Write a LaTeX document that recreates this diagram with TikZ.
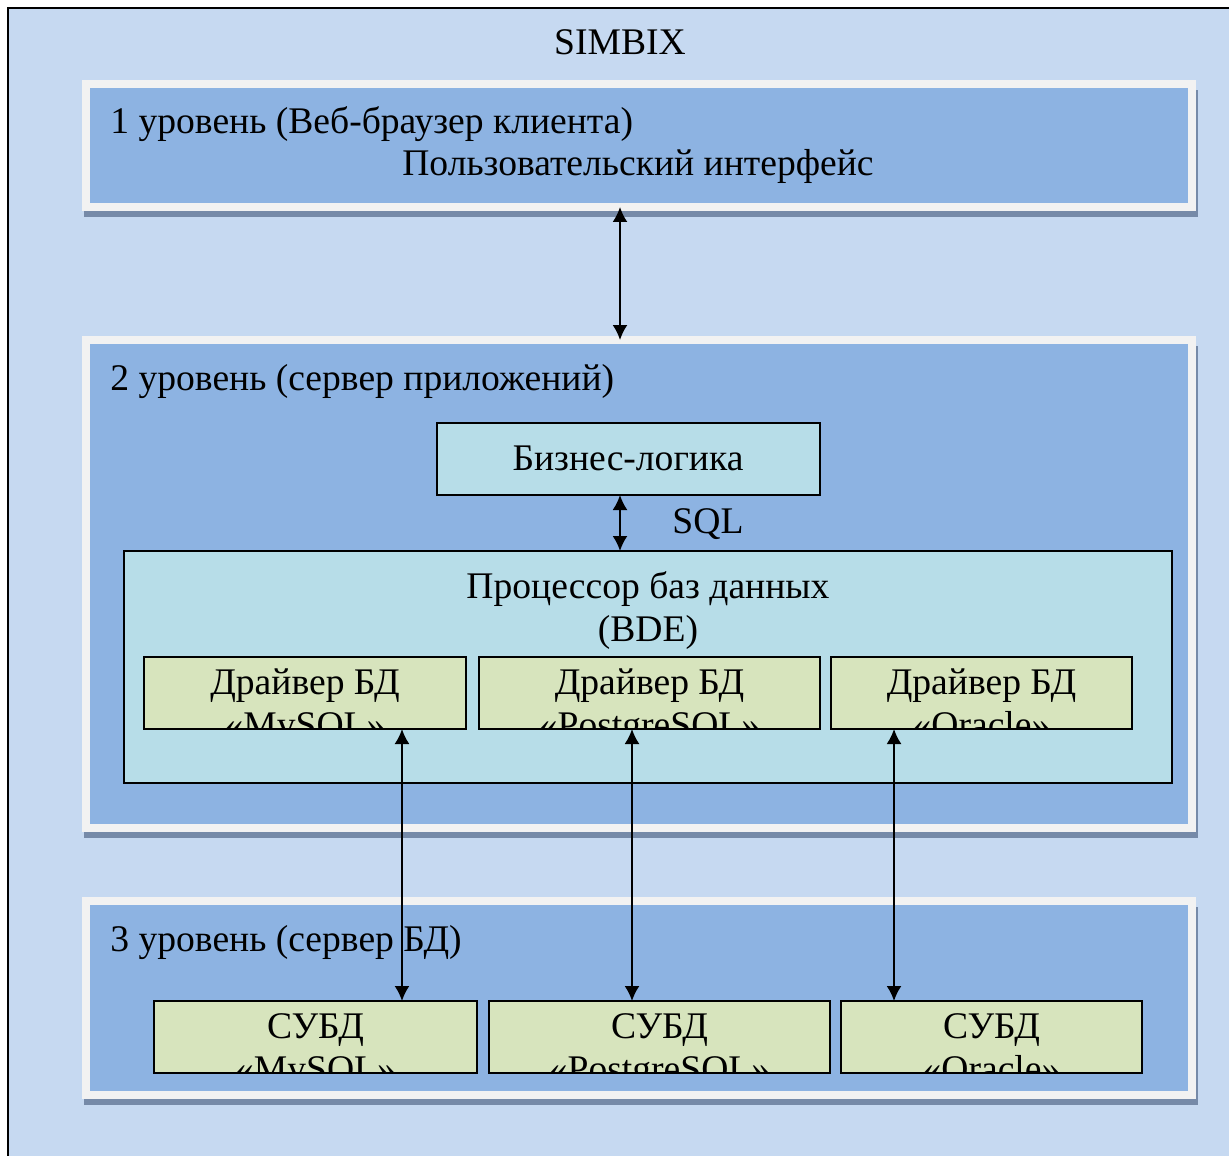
\documentclass[tikz,border=0pt]{standalone}
\usepackage{fontspec}
\setmainfont{Liberation Serif}
\usetikzlibrary{arrows.meta,fit}

\definecolor{outerblue}{HTML}{C6D9F1}
\definecolor{levelblue}{HTML}{8DB3E2}
\definecolor{framegray}{HTML}{F2F2F2}
\definecolor{shadowblue}{HTML}{768AA8}
\definecolor{boxcyan}{HTML}{B7DDE8}
\definecolor{drvgreen}{HTML}{D7E4BD}

\tikzstyle{line} = [draw, line width=0.04cm, {Latex[length=0.3cm,width=0.3cm]}-{Latex[length=0.3cm,width=0.3cm]}]
\tikzstyle{outer} = [rectangle, draw, fill=outerblue, line width=0.04cm, inner sep=0pt]
\tikzstyle{level} = [rectangle, draw=framegray, fill=levelblue, line width=0.16cm, inner sep=0pt, outer sep=0pt]
\tikzstyle{shade} = [fill=shadowblue]
\tikzstyle{box} = [rectangle, draw, fill=boxcyan, line width=0.04cm, inner sep=0pt, outer sep=0pt]
\tikzstyle{drv} = [rectangle, draw, fill=drvgreen, line width=0.04cm, inner sep=0pt, outer sep=0pt]
\tikzstyle{txt} = [inner sep=0pt, font=\fontsize{21.4}{25}\selectfont]

\begin{document}
\begin{tikzpicture}[x=0.02cm, y=-0.02cm]
	\clip (0,0) rectangle (1229,1155);
	\node [outer, fit={(8,8) (1250,1170)}] (simbix) {};
	\node [txt, anchor=base] (title) at (620,55) {SIMBIX};
	
	% 1 level
	\fill [shade] (84,90) rectangle (1198,217);
	\node [level, fit={(86,84) (1192,207)}] (lvl1) {};
	\node [txt, anchor=base west] (lvl1txt) at (110,134) {1 уровень (Веб-браузер клиента)};
	\node [txt, anchor=base] (ui) at (638,176) {Пользовательский интерфейс};
	
	% 2 level
	\fill [shade] (84,346) rectangle (1198,838);
	\node [level, fit={(86,340) (1192,828)}] (lvl2) {};
	\node [txt, anchor=base west] (lvl2txt) at (110,390) {2 уровень (сервер приложений)};
	
	\node [box, fit={(437,423) (820,495)}] (biz) {};
	\node [txt, anchor=base] (biztxt) at (628,470) {Бизнес-логика};
	
	\node [box, fit={(124,551) (1172,783)}] (bde) {};
	\node [txt, anchor=base] (bdetxt1) at (648,598) {Процессор баз данных};
	\node [txt, anchor=base] (bdetxt2) at (648,641) {(BDE)};
	
	\node [drv, fit={(144,657) (466,729)}, path picture={
		\node [txt, anchor=base] at ([yshift=-0.74cm]path picture bounding box.north) {Драйвер БД};
		\node [txt, anchor=base] at ([yshift=-1.62cm]path picture bounding box.north) {«MySQL»};
	}] (drvmysql) {};
	\node [drv, fit={(479,657) (820,729)}, path picture={
		\node [txt, anchor=base] at ([yshift=-0.74cm]path picture bounding box.north) {Драйвер БД};
		\node [txt, anchor=base] at ([yshift=-1.62cm]path picture bounding box.north) {«PostgreSQL»};
	}] (drvpgsql) {};
	\node [drv, fit={(831,657) (1132,729)}, path picture={
		\node [txt, anchor=base] at ([yshift=-0.74cm]path picture bounding box.north) {Драйвер БД};
		\node [txt, anchor=base] at ([yshift=-1.62cm]path picture bounding box.north) {«Oracle»};
	}] (drvora) {};
	
	% 3 level
	\fill [shade] (84,907) rectangle (1198,1105);
	\node [level, fit={(86,901) (1192,1095)}] (lvl3) {};
	\node [txt, anchor=base west] (lvl3txt) at (110,951) {3 уровень (сервер БД)};
	
	\node [drv, fit={(154,1001) (477,1073)}, path picture={
		\node [txt, anchor=base] at ([yshift=-0.74cm]path picture bounding box.north) {СУБД};
		\node [txt, anchor=base] at ([yshift=-1.62cm]path picture bounding box.north) {«MySQL»};
	}] (dbmysql) {};
	\node [drv, fit={(489,1001) (830,1073)}, path picture={
		\node [txt, anchor=base] at ([yshift=-0.74cm]path picture bounding box.north) {СУБД};
		\node [txt, anchor=base] at ([yshift=-1.62cm]path picture bounding box.north) {«PostgreSQL»};
	}] (dbpgsql) {};
	\node [drv, fit={(841,1001) (1142,1073)}, path picture={
		\node [txt, anchor=base] at ([yshift=-0.74cm]path picture bounding box.north) {СУБД};
		\node [txt, anchor=base] at ([yshift=-1.62cm]path picture bounding box.north) {«Oracle»};
	}] (dbora) {};
	
	% arrows
	\path [line] ([xshift=-0.38cm]lvl1.south) -- ([xshift=-0.38cm]lvl1.south |- lvl2.north);
	\path [line] ([xshift=-0.17cm]biz.south) -- ([xshift=-0.17cm]biz.south |- bde.north);
	\node [txt, anchor=base] (sql) at (708,533) {SQL};
	\path [line] ([xshift=1.94cm]drvmysql.south) -- ([xshift=1.94cm]drvmysql.south |- dbmysql.north);
	\path [line] ([xshift=-0.35cm]drvpgsql.south) -- ([xshift=-0.35cm]drvpgsql.south |- dbpgsql.north);
	\path [line] ([xshift=-1.75cm]drvora.south) -- ([xshift=-1.75cm]drvora.south |- dbora.north);
\end{tikzpicture}
\end{document}
